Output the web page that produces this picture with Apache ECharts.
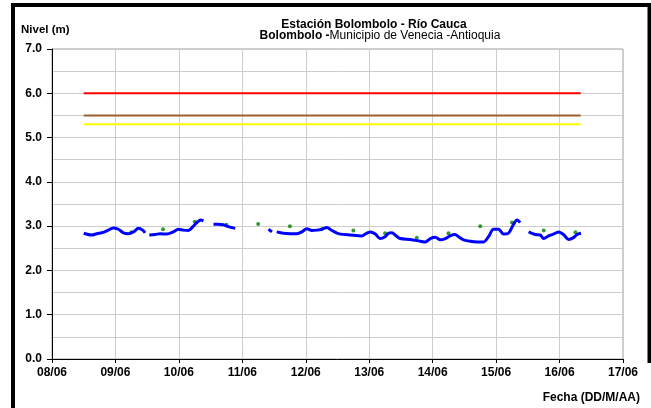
<!DOCTYPE html>
<html><head><meta charset="utf-8">
<script src="https://cdn.jsdelivr.net/npm/echarts@6/dist/echarts.min.js"></script>
<style>html,body{margin:0;padding:0;background:#fff}#c{width:651px;height:408px}</style>
</head><body><div id="c"></div>
<script>
// Hours since 08/06 00:00 and water level (m); null = gap in record
var levelHours = [12,15,16.9,19.4,21.3,23.2,25.1,27,28.9,30.8,32.7,34.3,35.2,35.9,
  36.8,39,40.9,43.4,45.9,47.8,49.7,51.6,53.3,54.8,56.3,57.3,59,
  61.1,62.9,64.8,66.7,69.3,75,
  81.9,83.2,84.1,
  85,87.5,90.1,92.6,94.5,96.4,98.3,100.2,102.1,104,105.9,107.8,109,112.8,117.2,119.1,120.4,122.3,124.1,126,127.3,128.6,129.8,131.7,135.5,139.3,141.2,143.1,145,146.9,148.8,150.6,152.5,153.8,155.7,159.5,163.2,165.1,167,168.9,170.8,172.7,174.4,175.9,177.1,178.7,
  180.3,182.8,184.7,186,187.9,189.7,191.6,193.5,195.4,197.3,198.6,200.1];
var levelValues = [2.84,2.80,2.83,2.86,2.91,2.96,2.93,2.85,2.83,2.87,2.95,2.91,2.85,null,
  2.80,2.81,2.83,2.82,2.87,2.93,2.91,2.90,2.99,3.08,3.14,3.12,null,
  3.04,3.04,3.03,2.99,2.95,null,
  2.93,2.87,null,
  2.87,2.84,2.83,2.83,2.87,2.94,2.90,2.91,2.93,2.97,2.90,2.84,2.82,2.80,2.78,2.84,2.87,2.82,2.72,2.76,2.84,2.85,2.80,2.72,2.70,2.66,2.64,2.72,2.75,2.69,2.72,2.78,2.81,2.76,2.69,2.65,2.64,2.76,2.93,2.93,2.82,2.84,3.02,3.14,3.08,null,
  2.87,2.81,2.80,2.72,2.78,2.82,2.87,2.81,2.70,2.74,2.81,2.84];
// Manual readings (green dots)
var readingHours = [30,42,54,66,78,90,102,114,126,138,150,162,174,186,198];
var readingValues = [2.86,2.93,3.10,3.03,3.05,3.00,2.93,2.90,2.84,2.74,2.84,3.00,3.08,2.90,2.86];
// Alert thresholds
var thresholdHours = [12,200];
var redLevel = 6.0, orangeLevel = 5.5, yellowLevel = 5.3;
var dateLabels = ['08/06','09/06','10/06','11/06','12/06','13/06','14/06','15/06','16/06','17/06'];

var F = 'Liberation Sans, Arial, sans-serif';
function pairs(h, v){ return h.map(function(x,i){ return [x, v[i]==null ? '-' : v[i]]; }); }
function flat(level){ return thresholdHours.map(function(x){ return [x, level]; }); }

var chart = echarts.init(document.getElementById('c'), null, {renderer:'canvas'});
chart.setOption({
  animation:false,
  backgroundColor:'#fff',
  grid:{left:52,right:28,top:49,bottom:49,show:true,borderColor:'#a0a0a0',borderWidth:1},
  xAxis:{type:'value',min:0,max:216,interval:24,
    axisLine:{show:true,onZero:false,lineStyle:{color:'#000',width:1}},
    axisTick:{show:true,length:4,lineStyle:{color:'#000'}},
    axisLabel:{margin:8,color:'#000',fontFamily:F,fontWeight:'bold',fontSize:12,
      formatter:function(v){ return dateLabels[Math.round(v/24)]; }},
    splitLine:{show:true,lineStyle:{color:'#cccccc',width:1}}},
  yAxis:{type:'value',min:0,max:7,interval:1,
    axisLine:{show:true,lineStyle:{color:'#000',width:1}},
    axisTick:{show:true,length:5,lineStyle:{color:'#000'}},
    axisLabel:{margin:10,color:'#000',fontFamily:F,fontWeight:'bold',fontSize:12,
      formatter:function(v){ return v.toFixed(1); }},
    splitLine:{show:true,lineStyle:{color:'#cccccc',width:1}},
    minorTick:{show:false,splitNumber:2},
    minorSplitLine:{show:true,lineStyle:{color:'#cccccc',width:1}}},
  series:[
    {type:'line',data:flat(redLevel),symbol:'none',lineStyle:{color:'#ff0000',width:2},silent:true},
    {type:'line',data:flat(orangeLevel),symbol:'none',lineStyle:{color:'#9c6030',width:2},silent:true},
    {type:'line',data:flat(yellowLevel),symbol:'none',lineStyle:{color:'#ffff00',width:2},silent:true},
    {type:'line',data:pairs(levelHours,levelValues),symbol:'none',smooth:0.3,connectNulls:false,
      lineStyle:{color:'#0000ff',width:3}},
    {type:'scatter',data:pairs(readingHours,readingValues),symbol:'circle',symbolSize:4,
      itemStyle:{color:'#008000'}}
  ],
  graphic:[
    {type:'polyline',shape:{points:[[13,412],[13,5],[649.5,5],[649.5,363]]},style:{fill:'none',stroke:'#000',lineWidth:4},silent:true},
    {type:'text',left:21,top:24,style:{text:'Nivel (m)',font:'bold 11.5px '+F,fill:'#000'}},
    {type:'text',x:374,y:25,style:{text:'Estación Bolombolo - Río Cauca',font:'bold 12px '+F,fill:'#000',align:'center',verticalAlign:'middle'}},
    {type:'text',x:380,y:36,style:{text:'{b|Bolombolo -}{n|Municipio de Venecia -Antioquia}',align:'center',verticalAlign:'middle',
      rich:{b:{font:'bold 12px '+F,fill:'#000'},n:{font:'12px '+F,fill:'#000'}}}},
    {type:'text',x:640,y:398,style:{text:'Fecha (DD/M/AA)',font:'bold 12px '+F,fill:'#000',align:'right',verticalAlign:'middle'}}
  ]
});
</script></body></html>
